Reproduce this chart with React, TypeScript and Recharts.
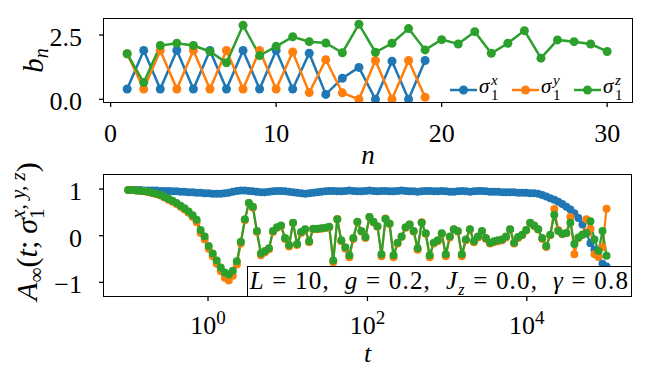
import React from 'react';
import { LineChart, Line, XAxis, YAxis, Legend } from 'recharts';

// top panel: Lanczos coefficients b_n
const nValues = [1, 2, 3, 4, 5, 6, 7, 8, 9, 10, 11, 12, 13, 14, 15, 16, 17, 18, 19, 20, 21, 22, 23, 24, 25, 26, 27, 28, 29, 30];
const bnX = [0.40, 1.90, 0.40, 1.90, 0.40, 1.90, 0.40, 1.90, 0.40, 1.90, 0.40, 1.79, 0.19, 0.82, 1.24, 0.0, 1.48, 0.0, 1.51];
const bnY = [1.77, 0.40, 1.90, 0.40, 1.90, 0.40, 1.90, 0.40, 1.90, 0.40, 1.84, 0.26, 1.54, 0.25, 0.0, 1.51, 0.0, 1.51, 0.08];
const bnZ = [1.77, 0.65, 2.09, 2.18, 2.09, 1.86, 1.42, 2.88, 1.70, 2.06, 2.43, 2.24, 2.19, 1.81, 2.92, 1.83, 2.18, 2.75, 1.92, 2.32, 2.15, 2.63, 1.79, 2.18, 2.67, 1.60, 2.31, 2.24, 2.15, 1.86];

// bottom panel: autocorrelation on a log-spaced time grid 1e-1 .. 1e5
const tCount = 120;
const tValues = Array.from({ length: tCount }, (_, i) => Math.pow(10, -1 + (6 * i) / (tCount - 1)));

const ampX = [
  0.98, 0.98, 0.98, 0.98, 0.97, 0.97, 0.97, 0.97, 0.96, 0.96,
  0.96, 0.95, 0.95, 0.94, 0.94, 0.93, 0.93, 0.92, 0.92, 0.91,
  0.91, 0.90, 0.90, 0.90, 0.91, 0.92, 0.94, 0.96, 0.97, 0.97,
  0.96, 0.95, 0.94, 0.93, 0.93, 0.94, 0.95, 0.96, 0.96, 0.95,
  0.94, 0.93, 0.92, 0.91, 0.90, 0.91, 0.92, 0.93, 0.94, 0.95,
  0.96, 0.96, 0.95, 0.95, 0.96, 0.97, 0.96, 0.95, 0.95, 0.96,
  0.97, 0.96, 0.95, 0.96, 0.96, 0.95, 0.95, 0.96, 0.97, 0.96,
  0.95, 0.95, 0.94, 0.95, 0.96, 0.96, 0.95, 0.95, 0.96, 0.95,
  0.94, 0.94, 0.95, 0.96, 0.95, 0.94, 0.95, 0.96, 0.96, 0.95,
  0.94, 0.94, 0.94, 0.93, 0.93, 0.93, 0.93, 0.92, 0.92, 0.92,
  0.91, 0.91, 0.90, 0.87, 0.84, 0.80, 0.77, 0.73, 0.68, 0.62,
  0.56, 0.48, 0.38, 0.24, 0.05, -0.16, -0.30, -0.45, -0.60, -0.66,
];
const ampY = [
  0.98, 0.98, 0.97, 0.96, 0.95, 0.93, 0.91, 0.89, 0.86, 0.82,
  0.77, 0.73, 0.68, 0.62, 0.56, 0.49, 0.40, 0.29, 0.06, -0.08,
  -0.28, -0.44, -0.60, -0.76, -0.90, -0.96, -0.86, -0.62, -0.17, 0.33,
  0.70, 0.60, 0.08, -0.42, -0.36, -0.29, 0.08, 0.17, 0.21, -0.07,
  -0.23, 0.27, -0.20, 0.06, 0.13, -0.14, 0.14, 0.14, 0.15, 0.16,
  0.18, -0.57, 0.36, -0.12, -0.28, -0.46, -0.07, 0.29, 0.09, -0.05,
  0.40, 0.29, 0.19, -0.44, 0.37, 0.25, -0.46, -0.17, -0.03, 0.17,
  0.24, 0.09, -0.30, 0.29, 0.04, -0.46, -0.17, -0.12, 0.04, -0.44,
  -0.04, 0.13, 0.09, -0.44, -0.10, 0.13, -0.14, -0.04, 0.09, -0.07,
  -0.17, -0.14, -0.12, -0.10, -0.04, 0.13, -0.17, -0.05, 0.01, 0.11,
  0.27, 0.21, 0.13, -0.07, -0.24, 0.01, 0.57, 0.12, 0.03, 0.05,
  0.40, -0.40, -0.05, 0.02, 0.35, 0.15, -0.40, -0.45, -0.25, 0.58,
];
const ampZ = [
  0.98, 0.98, 0.97, 0.96, 0.95, 0.94, 0.92, 0.90, 0.87, 0.83,
  0.79, 0.75, 0.70, 0.64, 0.59, 0.52, 0.44, 0.34, 0.12, -0.02,
  -0.22, -0.38, -0.53, -0.68, -0.79, -0.83, -0.75, -0.55, -0.13, 0.35,
  0.70, 0.62, 0.10, -0.38, -0.33, -0.27, 0.10, 0.18, 0.22, -0.05,
  -0.20, 0.28, -0.18, 0.08, 0.14, -0.12, 0.15, 0.15, 0.16, 0.17,
  0.19, -0.53, 0.35, -0.10, -0.25, -0.42, -0.05, 0.30, 0.10, -0.03,
  0.40, 0.30, 0.20, -0.40, 0.36, 0.26, -0.42, -0.15, -0.02, 0.18,
  0.24, 0.10, -0.27, 0.28, 0.05, -0.42, -0.15, -0.10, 0.05, -0.40,
  -0.02, 0.14, 0.10, -0.40, -0.08, 0.14, -0.12, -0.02, 0.10, -0.05,
  -0.15, -0.12, -0.10, -0.08, -0.02, 0.14, -0.15, -0.03, 0.02, 0.12,
  0.28, 0.22, 0.14, -0.05, -0.22, 0.02, 0.45, 0.10, 0.04, 0.06,
  0.28, -0.18, -0.04, 0.02, 0.05, 0.31, -0.08, -0.33, 0.10, -0.43,
];

const topXTicks = [0, 10, 20, 30];
const topYTicks = [0, 2.5];
const bottomXTicks = [1, 100, 10000];
const bottomYTicks = [-1, 0, 1];
const seriesNames = ['x', 'y', 'z'];
const colors = ['#1f77b4', '#ff7f0e', '#2ca02c'];

const FONT = '"Liberation Serif", "DejaVu Serif", serif';
const TICKLINE = { stroke: '#000', strokeWidth: 1.3 };

const topData = nValues.map((n, i) => ({ n, x: bnX[i], y: bnY[i], z: bnZ[i] }));
const bottomData = tValues.map((t, i) => ({ t, x: ampX[i], y: ampY[i], z: ampZ[i] }));

const topXDomain = [-0.4, 31.5];
const topYDomain = [-0.105, 3.122];
const botXDomain = [Math.pow(10, -1.305), Math.pow(10, 5.307)];
const botYDomain = [-1.293, 1.301];

const XNumTick = (props: any) => (
  <text x={props.x} y={props.y} dy={35} textAnchor="middle" fontFamily={FONT} fontSize={26} fill="#000">
    {props.payload.value}
  </text>
);

const XLogTick = (props: any) => (
  <text x={props.x} y={props.y} dy={33} textAnchor="middle" fontFamily={FONT} fontSize={26} fill="#000">
    <tspan>10</tspan>
    <tspan fontSize={19} dy={-10}>{Math.round(Math.log10(props.payload.value))}</tspan>
  </text>
);

const YTick = (fmt: (v: number) => string) => (props: any) => (
  <text x={props.x} y={props.y} dy={11} textAnchor="end" fontFamily={FONT} fontSize={26} fill="#000">
    {fmt(props.payload.value)}
  </text>
);

const LegendBox = () => (
  <svg width={200} height={34}>
    {colors.map((c, k) => {
      const ox = 10 + k * 62;
      return (
        <g key={k}>
          <line x1={ox} x2={ox + 27} y1={18} y2={18} stroke={c} strokeWidth={2.5} />
          <circle cx={ox + 13.5} cy={18} r={4.5} fill={c} />
          <text x={ox + 29} y={21} fontFamily={FONT} fontSize={21} fontStyle="italic" fill="#000">σ</text>
          <text x={ox + 41} y={28} fontFamily={FONT} fontSize={15} fill="#000">1</text>
          <text x={ox + 41} y={13} fontFamily={FONT} fontSize={15} fontStyle="italic" fill="#000">{seriesNames[k]}</text>
        </g>
      );
    })}
  </svg>
);

// axes frame (all four spines), drawn over the plot area
const Frame = ({ left, top, width, height }: { left: number; top: number; width: number; height: number }) => (
  <div style={{
    position: 'absolute', left: left - 0.75, top: top - 0.75, width: width + 1.5, height: height + 1.5,
    boxSizing: 'border-box', border: '1.5px solid #000', pointerEvents: 'none',
  }} />
);

export default function App() {
  return (
    <div style={{ position: 'absolute', left: 0, top: 0, width: 657, height: 385, background: '#fff', overflow: 'hidden' }}>
      <div style={{ position: 'absolute', left: 0, top: 0 }}>
        <LineChart width={657} height={175} data={topData} margin={{ top: 19, right: 25, left: 0, bottom: 13 }}>
          <XAxis
            dataKey="n" type="number" domain={topXDomain} ticks={topXTicks} allowDataOverflow
            height={60} tickSize={5} tickMargin={0} axisLine={false}
            tickLine={TICKLINE} tick={XNumTick}
            label={{
              content: (p: any) => (
                <text x={p.viewBox.x + p.viewBox.width / 2} y={p.viewBox.y + 62} textAnchor="middle"
                  fontFamily={FONT} fontSize={27} fontStyle="italic" fill="#000">n</text>
              ),
            }}
          />
          <YAxis
            type="number" domain={topYDomain} ticks={topYTicks} allowDataOverflow
            width={104} tickSize={5} tickMargin={17} axisLine={false}
            tickLine={TICKLINE} tick={YTick((v) => v.toFixed(1))}
            label={{
              content: (p: any) => (
                <text transform={`translate(43, ${p.viewBox.y + p.viewBox.height / 2}) rotate(-90)`} textAnchor="middle"
                  fontFamily={FONT} fontSize={29} fontStyle="italic" fill="#000">
                  <tspan>b</tspan>
                  <tspan fontSize={20} dy={5}>n</tspan>
                </text>
              ),
            }}
          />
          {seriesNames.map((s, k) => (
            <Line key={s} dataKey={s} stroke={colors[k]} strokeWidth={2.5} isAnimationActive={false}
              dot={{ r: 4.5, fill: colors[k], stroke: 'none' }} activeDot={false} />
          ))}
          <Legend layout="horizontal" align="center" verticalAlign="middle" content={LegendBox}
            wrapperStyle={{ position: 'absolute', left: 440, top: 72, width: 200, height: 34 }} />
        </LineChart>
      </div>
      <Frame left={104} top={19} width={528} height={83} />
      <div style={{ position: 'absolute', left: 0, top: 160 }}>
        <LineChart width={657} height={225} data={bottomData} margin={{ top: 15, right: 26, left: 0, bottom: 19 }}>
          <XAxis
            dataKey="t" type="number" scale="log" domain={botXDomain} ticks={bottomXTicks} allowDataOverflow
            height={70} tickSize={5} tickMargin={0} axisLine={false}
            tickLine={TICKLINE} tick={XLogTick}
            label={{
              content: (p: any) => (
                <text x={p.viewBox.x + p.viewBox.width / 2} y={p.viewBox.y + 66} textAnchor="middle"
                  fontFamily={FONT} fontSize={26} fontStyle="italic" fill="#000">t</text>
              ),
            }}
          />
          <YAxis
            type="number" domain={botYDomain} ticks={bottomYTicks} allowDataOverflow
            width={104} tickSize={5} tickMargin={17} axisLine={false}
            tickLine={TICKLINE} tick={YTick((v) => String(v).replace('-', '\u2212'))}
            label={{
              content: (p: any) => (
                <text transform={`translate(37, ${p.viewBox.y + p.viewBox.height / 2 - 4}) rotate(-90)`} textAnchor="middle"
                  fontFamily={FONT} fontSize={30} fill="#000">
                  <tspan fontStyle="italic">A</tspan>
                  <tspan fontSize={21} dy={6}>∞</tspan>
                  <tspan dy={-6}>(</tspan>
                  <tspan fontStyle="italic">t</tspan>
                  <tspan>;</tspan>
                  <tspan dx={7} fontStyle="italic">σ</tspan>
                  <tspan fontSize={21} dy={7}>1</tspan>
                  <tspan fontSize={21} dx={-10.5} dy={-19} fontStyle="italic">x, y, z</tspan>
                  <tspan dy={12}>)</tspan>
                </text>
              ),
            }}
          />
          {seriesNames.map((s, k) => (
            <Line key={s} dataKey={s} stroke={colors[k]} strokeWidth={2.2} isAnimationActive={false}
              dot={{ r: 4, fill: colors[k], stroke: 'none' }} activeDot={false} />
          ))}
        </LineChart>
      </div>
      <Frame left={104} top={175} width={527} height={121} />
      <div style={{
        position: 'absolute', left: 247, top: 266, width: 385, height: 31, boxSizing: 'border-box',
        border: '1.3px solid #000', background: '#fff', fontFamily: FONT, fontSize: 25, letterSpacing: 1.2,
        lineHeight: '28px', textAlign: 'center', whiteSpace: 'pre', color: '#000',
      }}>
        <i>L</i>{' = 10,  '}<i>g</i>{' = 0.2,  '}<i>J</i><sub style={{ fontSize: 16, fontStyle: 'italic', lineHeight: 0 }}>z</sub>{' = 0.0,  '}<i>γ</i>{' = 0.8'}
      </div>
    </div>
  );
}
